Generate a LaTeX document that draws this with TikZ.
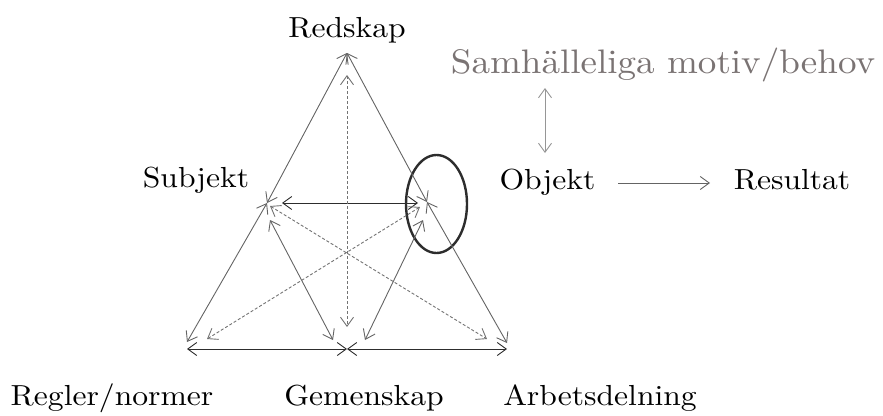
\documentclass[tikz,border=0pt]{standalone}
\usepackage{fontspec}
\newfontfamily\lmwide{lmroman10-regular.otf}[FakeStretch=1.09]
\usetikzlibrary{arrows.meta,shapes.geometric}
\definecolor{lg}{RGB}{100,100,100}
\definecolor{dk}{RGB}{45,45,45}
\definecolor{dotc}{RGB}{115,115,115}
\definecolor{gtx}{RGB}{122,115,115}
\definecolor{vg}{RGB}{150,150,150}
\newcommand{\labfont}[1]{\lmwide\fontsize{#1}{#1}\selectfont}
\begin{document}
\begin{tikzpicture}[x=1pt,y=-1pt,
  lbl/.style={anchor=base, inner sep=0pt, font=\labfont{29}},
  tipb/.tip={Straight Barb[length=9pt,width=13pt]},
  edge/.style={draw=lg, line width=0.9pt, tipb-tipb},
  dotedge/.style={edge, draw=dotc, dash pattern=on 3pt off 2pt},
  dkedge/.style={edge, draw=dk},
  ]
\useasboundingbox (0,0) rectangle (883,415);
% vertices
\coordinate (A) at (347,53);
\coordinate (S) at (267,203);
\coordinate (O) at (427,202);
\coordinate (L) at (187,342);
\coordinate (Rt) at (507,343);
% auxiliary ends
\coordinate (Sh) at (282,203);
\coordinate (Oh) at (418,203);
\coordinate (Sm) at (270,220);
\coordinate (Ms) at (333,340);
\coordinate (Om) at (423,220);
\coordinate (Mo) at (365,340);
\coordinate (Od) at (420,207);
\coordinate (Ld) at (207,339);
\coordinate (Sd) at (270,206);
\coordinate (Rd) at (487,339);
\coordinate (At) at (347,75);
\coordinate (Mb) at (347,327);
\coordinate (BL) at (187,349);
\coordinate (BM) at (347,349);
\coordinate (BR) at (507,349);
% texts
\node[lbl] (red) at (347,37) {Redskap};
\node[lbl, font=\labfont{34}, text=gtx] (sam) at (663,73) {Samhälleliga motiv/behov};
\node[lbl] (sub) at (196,187) {Subjekt};
\node[lbl] (obj) at (547.5,189) {Objekt};
\node[lbl] (res) at (792,189) {Resultat};
\node[lbl] (reg) at (112,405) {Regler/normer};
\node[lbl] (gem) at (364,405) {Gemenskap};
\node[lbl] (arb) at (600,405) {Arbetsdelning};
% ellipse
\node[draw=dk, line width=2.4pt, ellipse, inner sep=0pt, minimum width=61pt, minimum height=98pt] (E) at (436.5,204) {};
% edges
\draw[edge] (S) -- (A);
\draw[edge] (O) -- (A);
\draw[edge] (S) -- (L);
\draw[edge] (O) -- (Rt);
\draw[dkedge] (Sh) -- (Oh);
\draw[edge] (Sm) -- (Ms);
\draw[edge] (Om) -- (Mo);
\draw[dotedge] (Od) -- (Ld);
\draw[dotedge] (Sd) -- (Rd);
\draw[dotedge] (At) -- (Mb);
\draw[dkedge] (BL) -- (BM);
\draw[dkedge] (BM) -- (BR);
% right side
\coordinate (or1) at (618,183);
\coordinate (or2) at (710,183);
\draw[draw=lg, line width=0.9pt, -tipb] (or1) -- (or2);
\coordinate (sv1) at (545,88);
\coordinate (sv2) at (545,153);
\draw[draw=vg, line width=0.9pt, tipb-tipb] (sv1) -- (sv2);
\end{tikzpicture}
\end{document}
